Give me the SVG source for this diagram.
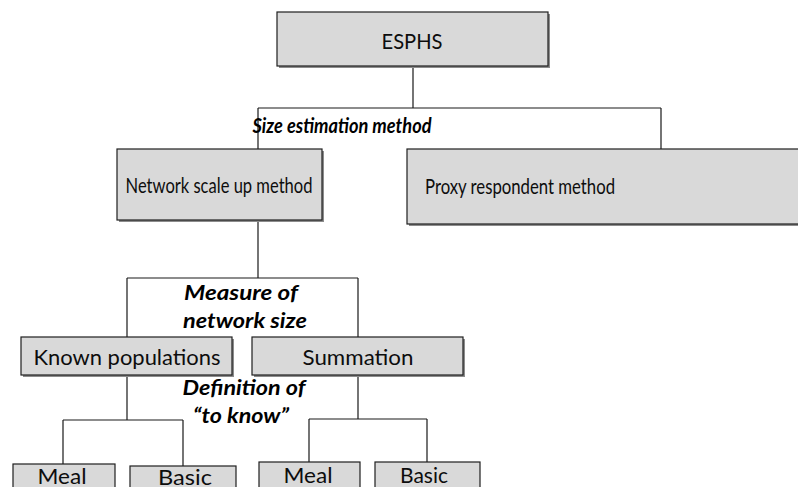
<svg xmlns="http://www.w3.org/2000/svg" width="798" height="487" viewBox="0 0 798 487">
<style>
.box{fill:#d9d9d9;stroke:#1f1f1f;stroke-width:1.2}
.shd{fill:#8c8c8c}
.lbl{font-family:Lato,"Liberation Sans",sans-serif;font-size:21.5px;fill:#0d0d0d;text-anchor:middle}
.lbl.sm{font-size:22px}
.cat{font-family:Lato,"Liberation Sans",sans-serif;font-size:21px;font-weight:bold;font-style:italic;fill:#000;text-anchor:middle}
.cat.cs{font-size:20px}
.con{fill:none;stroke:#1a1a1a;stroke-width:1.2}
</style>
<rect width="798" height="487" fill="#fff"/>
<g id="connectors">
<path class="con" d="M413 66V108M258 108H661M258 108V149M661 108V149"/>
<path class="con" d="M258 220V278M127 278H358M127 278V337M358 278V337"/>
<path class="con" d="M127 375V420M63 420H183M63 420V464M183 420V466"/>
<path class="con" d="M358 375V419M309 419H427M309 419V462M427 419V462"/>
</g>
<g id="labels">
<text class="cat cs" x="342" y="133" textLength="179" lengthAdjust="spacingAndGlyphs">Size estimation method</text>
<text class="cat" x="241" y="300" textLength="114" lengthAdjust="spacingAndGlyphs">Measure of</text>
<text class="cat" x="245" y="328" textLength="124" lengthAdjust="spacingAndGlyphs">network size</text>
<text class="cat" x="244" y="395" textLength="123" lengthAdjust="spacingAndGlyphs">Definition of</text>
<text class="cat" x="241" y="423" textLength="96" lengthAdjust="spacingAndGlyphs">“to know”</text>
</g>
<g id="esphs">
<rect class="shd" x="279" y="14" width="271" height="54"/>
<rect class="box" x="277" y="12" width="271" height="54"/>
<text class="lbl" x="412" y="49" textLength="61" lengthAdjust="spacingAndGlyphs">ESPHS</text>
</g>
<g id="nsu">
<rect class="shd" x="119" y="151" width="205" height="71"/>
<rect class="box" x="117" y="149" width="205" height="71"/>
<text class="lbl sm" x="219" y="193" textLength="187" lengthAdjust="spacingAndGlyphs">Network scale up method</text>
</g>
<g id="proxy">
<rect class="shd" x="409" y="151" width="392" height="75"/>
<rect class="box" x="407" y="149" width="392" height="75"/>
<text class="lbl sm" x="520" y="194" textLength="190" lengthAdjust="spacingAndGlyphs">Proxy respondent method</text>
</g>
<g id="known">
<rect class="shd" x="23" y="339" width="211" height="38"/>
<rect class="box" x="21" y="337" width="211" height="38"/>
<text class="lbl" x="127" y="365" textLength="187" lengthAdjust="spacingAndGlyphs">Known populations</text>
</g>
<g id="summation">
<rect class="shd" x="254" y="339" width="211" height="38"/>
<rect class="box" x="252" y="337" width="211" height="38"/>
<text class="lbl" x="358" y="365" textLength="111" lengthAdjust="spacingAndGlyphs">Summation</text>
</g>
<g id="meal1">
<rect class="box" x="13" y="464" width="102" height="40"/>
<text class="lbl" x="62" y="484" textLength="49" lengthAdjust="spacingAndGlyphs">Meal</text>
</g>
<g id="basic1">
<rect class="box" x="130" y="466" width="106" height="40"/>
<text class="lbl" x="185" y="485" textLength="54" lengthAdjust="spacingAndGlyphs">Basic</text>
</g>
<g id="meal2">
<rect class="box" x="259" y="462" width="101" height="40"/>
<text class="lbl" x="308" y="483" textLength="49" lengthAdjust="spacingAndGlyphs">Meal</text>
</g>
<g id="basic2">
<rect class="box" x="375" y="462" width="105" height="40"/>
<text class="lbl" x="424" y="483" textLength="48" lengthAdjust="spacingAndGlyphs">Basic</text>
</g>
</svg>
